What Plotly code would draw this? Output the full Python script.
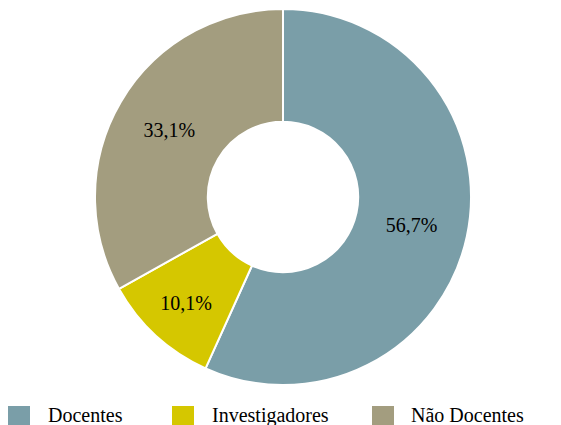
import plotly.graph_objects as go

labels = ["Docentes", "Investigadores", "Não Docentes"]
values = [56.7, 10.1, 33.1]
colors = ["#7A9EA8", "#D5C700", "#A39D7F"]

W, H = 561, 425
OFF = 8  # page body margin offset

def px(x):
    return (x - OFF) / W

def py(y):
    return 1 - (y - OFF) / H

fig = go.Figure(go.Pie(
    labels=labels,
    values=values,
    hole=0.4,
    sort=False,
    direction="clockwise",
    rotation=0,
    marker=dict(colors=colors, line=dict(color="white", width=2)),
    texttemplate="%{value:.1f}%",
    textposition="inside",
    insidetextorientation="horizontal",
    textfont=dict(family="Liberation Serif", size=20, color="black"),
    domain=dict(x=[px(95), px(471)], y=[py(385), py(9)]),
    hoverinfo="label+percent",
    showlegend=False,
))

# manual legend (guide only)
legend_sq_x = [8, 172, 372]
legend_tx_x = [46, 210, 409]
for lab, col, sx, tx in zip(labels, colors, legend_sq_x, legend_tx_x):
    fig.add_shape(type="rect", xref="paper", yref="paper",
                  x0=px(sx), x1=px(sx + 22), y0=py(428), y1=py(406),
                  fillcolor=col, line=dict(width=0))
    fig.add_annotation(xref="paper", yref="paper", x=px(tx), y=py(415),
                       xanchor="left", yanchor="middle", showarrow=False,
                       text=lab, font=dict(family="Liberation Serif", size=20, color="black"))

fig.update_layout(
    width=W, height=H,
    margin=dict(l=0, r=0, t=0, b=0),
    paper_bgcolor="white",
    separators=",.",
    font=dict(family="Liberation Serif", size=20, color="black"),
    showlegend=False,
)

fig.write_html("out.html")
